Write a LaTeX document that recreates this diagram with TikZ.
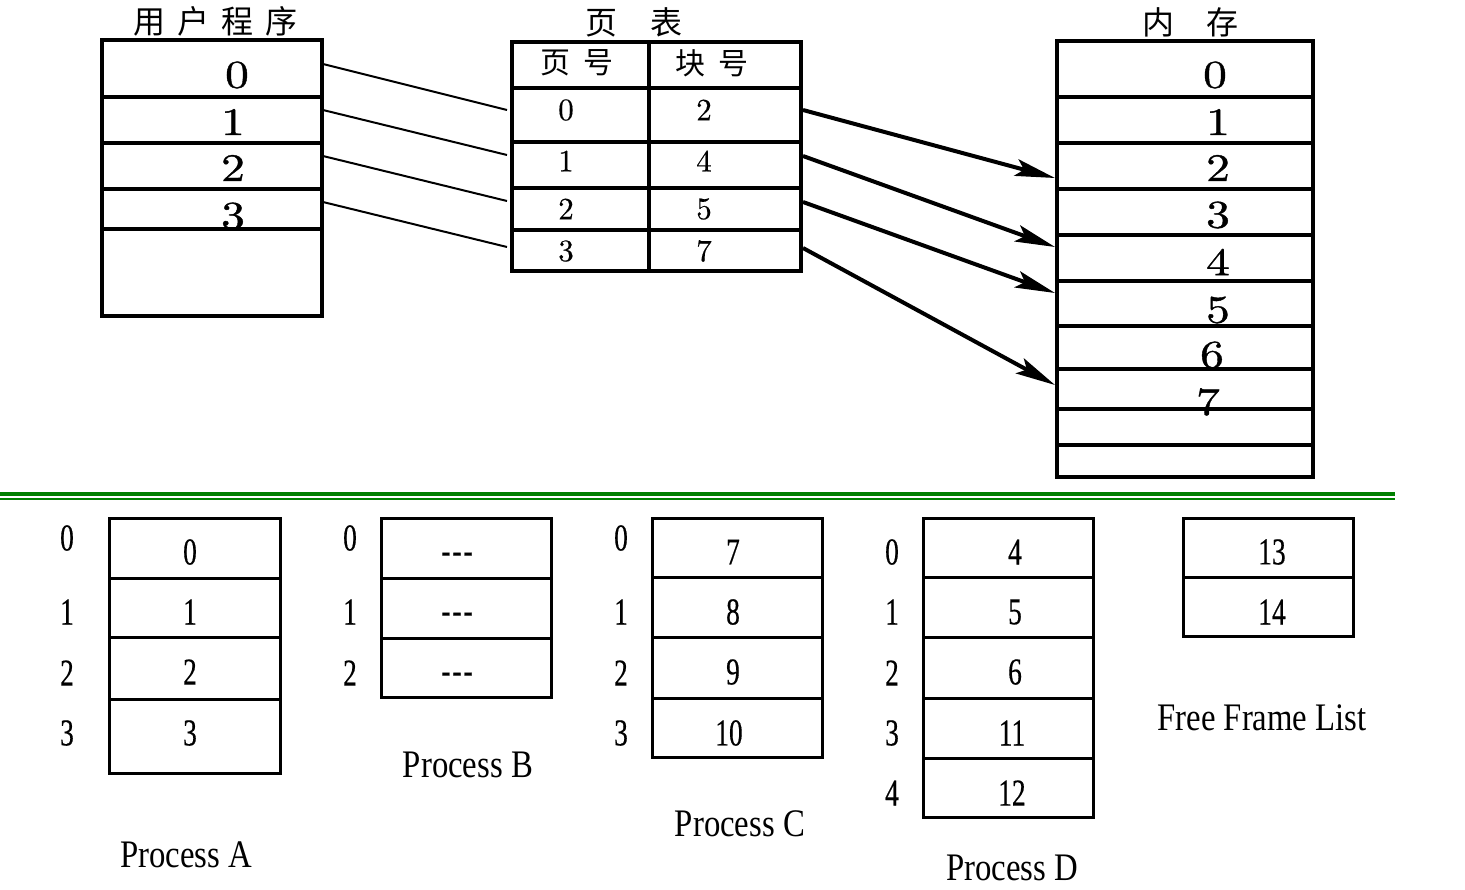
\documentclass[tikz,border=0pt]{standalone}
\usepackage{fontspec}
\usepackage{graphicx}
\usetikzlibrary{arrows.meta}
\newfontfamily\cjk{Noto Sans CJK SC}
\newfontfamily\tnd[FakeStretch=0.72,FakeBold=0.4]{Liberation Serif}
\newfontfamily\tnt[FakeStretch=0.84]{Liberation Serif}
\newfontfamily\lmw{lmroman10-regular.otf}[FakeStretch=1.22,FakeBold=1.0]
\newfontfamily\lmp{lmroman10-regular.otf}[FakeBold=0.5]
\definecolor{linegreen}{RGB}{0,128,0}
\newcommand\cellbox[6]{\node[#1, minimum width={(#5-#3)*0.5pt}, minimum height={(#6-#4)*0.5pt}] (#2) at ({(#3+#5)/2},{(#4+#6)/2}) {};}
\begin{document}
\begin{tikzpicture}[x=0.5pt,y=-0.5pt,
  cell/.style={draw, line width=1.7pt, inner sep=0pt, outer sep=0pt},
  bcell/.style={draw, line width=1.5pt, inner sep=0pt, outer sep=0pt},
  lbl/.style={inner sep=0pt, outer sep=0pt},
  bigd/.style={lbl, font=\lmw\fontsize{19.5pt}{19.5pt}\selectfont},
  ptd/.style={lbl, font=\lmp\fontsize{15.5pt}{15.5pt}\selectfont},
  cjkt/.style={lbl, font=\cjk\fontsize{16pt}{16pt}\selectfont},
  cjkh/.style={lbl, font=\cjk\fontsize{15pt}{15pt}\selectfont},
  nd/.style={lbl, font=\tnd\fontsize{19pt}{19pt}\selectfont},
  nt/.style={lbl, font=\tnt\fontsize{19.5pt}{19.5pt}\selectfont},
  link/.style={line width=1pt},
  arr/.style={line width=2pt, -{Stealth[length=20pt,width=8.5pt,inset=4pt]}},
]
\useasboundingbox (0,0) rectangle (1465,889);

% ---------------- titles
\node[cjkt] (tuser) at (215,21) {用\hspace{6pt}户\hspace{6pt}程\hspace{6pt}序};
\node[cjkt] (tpt) at (634,22) {页\hspace{16.5pt}表};
\node[cjkt] (tmem) at (1190,22) {内\hspace{16pt}存};

% ---------------- user program
\cellbox{cell}{up0}{102}{40}{322}{97}
\cellbox{cell}{up1}{102}{97}{322}{143}
\cellbox{cell}{up2}{102}{143}{322}{189}
\cellbox{cell}{up3}{102}{189}{322}{229}
\cellbox{cell}{up4}{102}{229}{322}{316}
\node[bigd] (ud0) at (237,75) {0};
\node[bigd] (ud1) at (233,122) {1};
\node[bigd] (ud2) at (233,168) {2};
\begin{scope}
\clip (102,189) rectangle (322,228);
\node[bigd] (ud3) at (233,216) {3};
\end{scope}
\draw[line width=1.7pt] (102,229) -- (322,229);

% ---------------- page table
\cellbox{cell}{ph0}{512}{42}{649}{88}
\cellbox{cell}{ph1}{649}{42}{801}{88}
\cellbox{cell}{pa0}{512}{88}{649}{142}
\cellbox{cell}{pb0}{649}{88}{801}{142}
\cellbox{cell}{pa1}{512}{142}{649}{188}
\cellbox{cell}{pb1}{649}{142}{801}{188}
\cellbox{cell}{pa2}{512}{188}{649}{230}
\cellbox{cell}{pb2}{649}{188}{801}{230}
\cellbox{cell}{pa3}{512}{230}{649}{271}
\cellbox{cell}{pb3}{649}{230}{801}{271}
\node[cjkh] (hpage) at (577,63) {页\hspace{6.5pt}号};
\node[cjkh] (hblock) at (712,63) {块\hspace{6.5pt}号};
\node[ptd] (pn0) at (566,110) {0};
\node[ptd] (pn1) at (566,161) {1};
\node[ptd] (pn2) at (566,209) {2};
\node[ptd] (pn3) at (566,251) {3};
\node[ptd] (bn0) at (704,110) {2};
\node[ptd] (bn1) at (704,161) {4};
\node[ptd] (bn2) at (704,209) {5};
\node[ptd] (bn3) at (704,251) {7};

% ---------------- memory
\cellbox{cell}{m0}{1057}{41}{1313}{97}
\cellbox{cell}{m1}{1057}{97}{1313}{143}
\cellbox{cell}{m2}{1057}{143}{1313}{189}
\cellbox{cell}{m3}{1057}{189}{1313}{235}
\cellbox{cell}{m4}{1057}{235}{1313}{281}
\cellbox{cell}{m5}{1057}{281}{1313}{326}
\cellbox{cell}{m6}{1057}{326}{1313}{369}
\cellbox{cell}{m7}{1057}{369}{1313}{409}
\cellbox{cell}{m8}{1057}{409}{1313}{445}
\cellbox{cell}{m9}{1057}{445}{1313}{477}
\node[bigd] (md0) at (1215,75) {0};
\node[bigd] (md1) at (1218,122) {1};
\node[bigd] (md2) at (1218,168) {2};
\node[bigd] (md3) at (1218,215) {3};
\node[bigd] (md4) at (1218,262) {4};
\node[bigd] (md5) at (1218,310) {5};
\node[bigd] (md6) at (1212,355) {6};
\node[bigd] (md7) at (1208,402) {7};
\draw[line width=1.7pt] (1057,326) -- (1313,326) (1057,369) -- (1313,369) (1057,409) -- (1313,409);

% ---------------- connectors user -> page table
\coordinate (us0) at (323,64);
\coordinate (us1) at (323,110);
\coordinate (us2) at (323,156);
\coordinate (us3) at (323,202);
\coordinate (pe0) at (507,110);
\coordinate (pe1) at (507,155);
\coordinate (pe2) at (507,201);
\coordinate (pe3) at (507,247);
\draw[link] (us0) -- (pe0);
\draw[link] (us1) -- (pe1);
\draw[link] (us2) -- (pe2);
\draw[link] (us3) -- (pe3);

% ---------------- arrows page table -> memory
\coordinate (ps0) at (803,110);
\coordinate (ps1) at (803,156);
\coordinate (ps2) at (803,202);
\coordinate (ps3) at (803,248);
\coordinate (me0) at (1055,178);
\coordinate (me1) at (1055,247);
\coordinate (me2) at (1055,293);
\coordinate (me3) at (1055,385);
\draw[arr] (ps0) -- (me0);
\draw[arr] (ps1) -- (me1);
\draw[arr] (ps2) -- (me2);
\draw[arr] (ps3) -- (me3);

% ---------------- separator
\draw[linegreen, line width=2.2pt] (0,494) -- (1395,494);
\draw[linegreen, line width=0.7pt] (0,499) -- (1395,499);

% ---------------- Process A
\cellbox{bcell}{a0}{109}{518}{280}{578}
\cellbox{bcell}{a1}{109}{578}{280}{637}
\cellbox{bcell}{a2}{109}{637}{280}{699}
\cellbox{bcell}{a3}{109}{699}{280}{773}
\node[nd] (ai0) at (67,538) {0};
\node[nd] (ai1) at (67,612) {1};
\node[nd] (ai2) at (67,673) {2};
\node[nd] (ai3) at (67,733) {3};
\node[nd] (av0) at (190,552) {0};
\node[nd] (av1) at (190,612) {1};
\node[nd] (av2) at (190,672) {2};
\node[nd] (av3) at (190,733) {3};
\node[nt] (alab) at (186,855) {Process A};

% ---------------- Process B
\cellbox{bcell}{b0}{381}{518}{551}{578}
\cellbox{bcell}{b1}{381}{578}{551}{638}
\cellbox{bcell}{b2}{381}{638}{551}{697}
\node[nd] (bi0) at (350,538) {0};
\node[nd] (bi1) at (350,612) {1};
\node[nd] (bi2) at (350,673) {2};
\node[nd] (bv0) at (457,558) {{-}\kern1pt{-}\kern1pt{-}};
\node[nd] (bv1) at (457,618) {{-}\kern1pt{-}\kern1pt{-}};
\node[nd] (bv2) at (457,678) {{-}\kern1pt{-}\kern1pt{-}};
\node[nt] (blab) at (468,765) {Process B};

% ---------------- Process C
\cellbox{bcell}{c0}{652}{518}{822}{577}
\cellbox{bcell}{c1}{652}{577}{822}{637}
\cellbox{bcell}{c2}{652}{637}{822}{698}
\cellbox{bcell}{c3}{652}{698}{822}{757}
\node[nd] (ci0) at (621,538) {0};
\node[nd] (ci1) at (621,612) {1};
\node[nd] (ci2) at (621,673) {2};
\node[nd] (ci3) at (621,733) {3};
\node[nd] (cv0) at (733,552) {7};
\node[nd] (cv1) at (733,612) {8};
\node[nd] (cv2) at (733,672) {9};
\node[nd] (cv3) at (729,733) {10};
\node[nt] (clab) at (740,824) {Process C};

% ---------------- Process D
\cellbox{bcell}{d0}{923}{518}{1093}{577}
\cellbox{bcell}{d1}{923}{577}{1093}{637}
\cellbox{bcell}{d2}{923}{637}{1093}{698}
\cellbox{bcell}{d3}{923}{698}{1093}{758}
\cellbox{bcell}{d4}{923}{758}{1093}{817}
\node[nd] (di0) at (892,552) {0};
\node[nd] (di1) at (892,612) {1};
\node[nd] (di2) at (892,673) {2};
\node[nd] (di3) at (892,733) {3};
\node[nd] (di4) at (892,793) {4};
\node[nd] (dv0) at (1015,552) {4};
\node[nd] (dv1) at (1015,612) {5};
\node[nd] (dv2) at (1015,672) {6};
\node[nd] (dv3) at (1012,733) {11};
\node[nd] (dv4) at (1012,793) {12};
\node[nt] (dlab) at (1012,868) {Process D};

% ---------------- Free frame list
\cellbox{bcell}{f0}{1183}{518}{1353}{577}
\cellbox{bcell}{f1}{1183}{577}{1353}{636}
\node[nd] (fv0) at (1272,552) {13};
\node[nd] (fv1) at (1272,612) {14};
\node[nt] (flab) at (1262,718) {Free Frame List};
\end{tikzpicture}
\end{document}
